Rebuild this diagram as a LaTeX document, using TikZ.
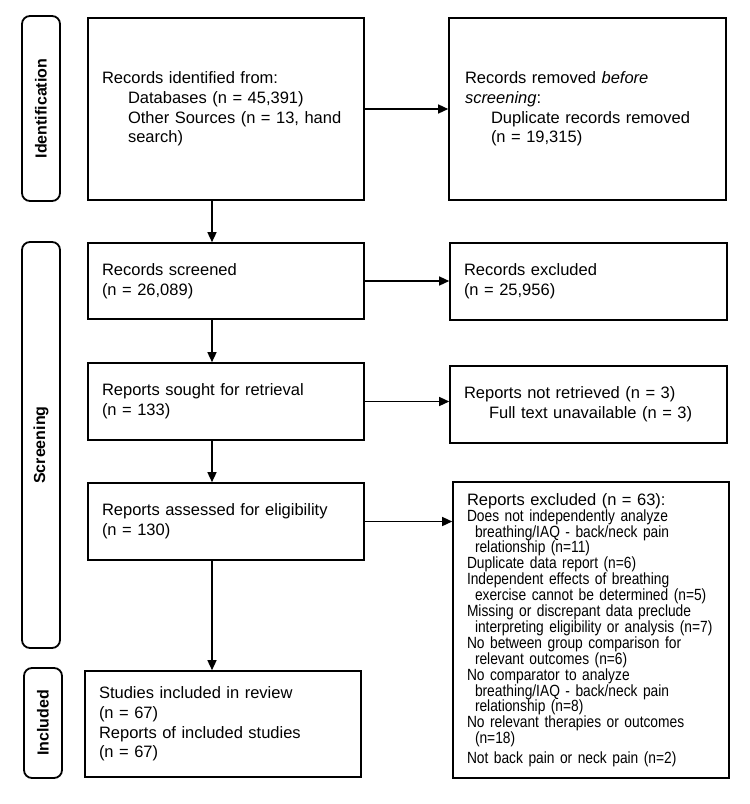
\documentclass[tikz,border=0pt]{standalone}
\usepackage{fontspec}
\setmainfont{Liberation Sans}
\newfontfamily\narrowsans[FakeStretch=0.85]{Liberation Sans}
\usetikzlibrary{arrows.meta}
\begin{document}
\begin{tikzpicture}[x=1pt,y=-1pt,
  box/.style={draw, line width=1.6pt, inner xsep=14pt, inner ysep=0pt, align=left,
    font=\fontsize{16.5}{19.6}\selectfont},
  phase/.style={draw, line width=1.8pt, rounded corners=8pt, rotate=90, minimum height=38pt,
    inner sep=0pt, font=\fontsize{16}{18}\selectfont\bfseries},
  arr/.style={line width=1.4pt, -{Triangle[length=10pt,width=9pt]}}
]
\useasboundingbox (0,0) rectangle (750,804);

% phase labels
\node[phase, minimum width=185pt] (pid) at (41,108.5) {Identification};
\node[phase, minimum width=406pt] (psc) at (41,445) {Screening};
\node[phase, minimum width=110pt] (pin) at (43,723) {Included};

% left column
\node[box, text width=248pt, minimum height=182pt] (b1) at (226,109)
  {Records identified from:\\
   \hspace*{26pt}Databases (n = 45,391)\\
   \hspace*{26pt}Other Sources (n = 13, hand\\
   \hspace*{26pt}search)};
\node[box, text width=248pt, minimum height=76pt] (b3) at (226,281)
  {Records screened\\(n = 26,089)};
\node[box, text width=248pt, minimum height=77pt] (b5) at (226,401.5)
  {Reports sought for retrieval\\(n = 133)};
\node[box, text width=248pt, minimum height=77pt] (b7) at (226,521.5)
  {Reports assessed for eligibility\\(n = 130)};
\node[box, text width=248pt, minimum height=106pt] (b9) at (223,724)
  {Studies included in review\\(n = 67)\\Reports of included studies\\(n = 67)};

% right column
\node[box, text width=245pt, minimum height=182pt, inner xsep=16pt] (b2) at (587.5,109)
  {Records removed \textit{before}\\
   \textit{screening}:\\
   \hspace*{26pt}Duplicate records removed\\
   \hspace*{26pt}(n = 19,315)};
\node[box, text width=249pt, minimum height=77pt] (b4) at (588.5,281.5)
  {Records excluded\\(n = 25,956)};
\node[box, text width=249pt, minimum height=77pt] (b6) at (588.5,404.5)
  {Reports not retrieved (n = 3)\\
   \hspace*{25pt}Full text unavailable (n = 3)};
\node[box, text width=248pt, minimum height=296pt, inner xsep=14pt] (b8) at (591,630)
  {{\fontsize{16.5}{15.9}\selectfont Reports excluded (n = 63):}\\
   \narrowsans\fontsize{16.2}{15.9}\selectfont
   Does not independently analyze\\
   \hspace*{8pt}breathing/IAQ - back/neck pain\\
   \hspace*{8pt}relationship (n=11)\\
   Duplicate data report (n=6)\\
   Independent effects of breathing\\
   \hspace*{8pt}exercise cannot be determined (n=5)\\
   Missing or discrepant data preclude\\
   \hspace*{8pt}interpreting eligibility or analysis (n=7)\\
   No between group comparison for\\
   \hspace*{8pt}relevant outcomes (n=6)\\
   No comparator to analyze\\
   \hspace*{8pt}breathing/IAQ - back/neck pain\\
   \hspace*{8pt}relationship (n=8)\\
   No relevant therapies or outcomes\\
   \hspace*{8pt}(n=18)\\
   Not back pain or neck pain (n=2)};

% connectors
\coordinate (ax) at (212,0);
\draw[arr] (b1.south -| ax) -- (b3.north -| ax);
\draw[arr] (b3.south -| ax) -- (b5.north -| ax);
\draw[arr] (b5.south -| ax) -- (b7.north -| ax);
\draw[arr] (b7.south -| ax) -- (b9.north -| ax);
\draw[arr] (b1.east) -- (b1.east -| b2.west);
\draw[arr] (b3.east) -- (b3.east -| b4.west);
\draw[arr] (b5.east) -- (b5.east -| b6.west);
\draw[arr] (b7.east) -- (b7.east -| b8.west);
\end{tikzpicture}
\end{document}
